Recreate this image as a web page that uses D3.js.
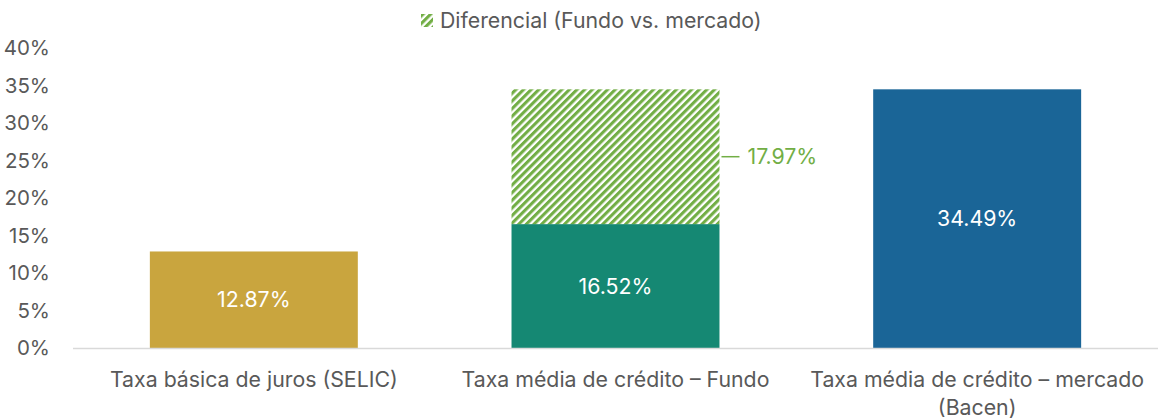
<!DOCTYPE html>
<html>
<head>
<meta charset="utf-8">
<script src="https://cdn.jsdelivr.net/npm/d3@7"></script>
<style>
  body { margin: 0; background: #fff; }
  svg text { font-family: Inter, "Open Sans", sans-serif; }
</style>
</head>
<body>
<div id="chart"></div>
<script>
// data
const categories = [
  ["Taxa básica de juros (SELIC)"],
  ["Taxa média de crédito – Fundo"],
  ["Taxa média de crédito – mercado", "(Bacen)"]
];
const baseValues = [12.87, 16.52, 34.49];
const diffValues = [0, 17.97, 0];
const baseColors = ["#C9A53E", "#158873", "#1A6597"];
const yTicks = [0, 5, 10, 15, 20, 25, 30, 35, 40];
const legendLabel = "Diferencial (Fundo vs. mercado)";

const width = 1158, height = 419;
const margin = { top: 48, right: 0, bottom: 71, left: 73 };
const green = "#72AE45";
const grey = "#595959";
const fs = 21.3;

const svg = d3.select("#chart").append("svg")
  .attr("width", width)
  .attr("height", height);

const defs = svg.append("defs");
const pat = defs.append("pattern")
  .attr("id", "hatch")
  .attr("patternUnits", "userSpaceOnUse")
  .attr("width", 5.4)
  .attr("height", 5.4)
  .attr("patternTransform", "rotate(45)");
pat.append("rect").attr("width", 5.4).attr("height", 5.4).attr("fill", "#fff");
pat.append("rect").attr("width", 3.1).attr("height", 5.4).attr("fill", green);

const x = d3.scaleBand()
  .domain(d3.range(categories.length))
  .range([margin.left, width - margin.right])
  .paddingInner(0.425)
  .paddingOuter(0.2125);

const y = d3.scaleLinear()
  .domain([0, 40])
  .range([height - margin.bottom, margin.top]);

// y axis labels
svg.append("g")
  .selectAll("text")
  .data(yTicks)
  .join("text")
  .attr("x", 50)
  .attr("y", d => y(d))
  .attr("dy", "0.35em")
  .attr("text-anchor", "end")
  .attr("font-size", 20.5)
  .attr("fill", grey)
  .text(d => d + "%");

// bars
svg.append("g")
  .selectAll("rect")
  .data(baseValues)
  .join("rect")
  .attr("x", (d, i) => x(i))
  .attr("width", x.bandwidth())
  .attr("y", d => y(d))
  .attr("height", d => y(0) - y(d))
  .attr("fill", (d, i) => baseColors[i]);

const diffs = diffValues.map((d, i) => ({ i, d })).filter(o => o.d > 0);

svg.append("g")
  .selectAll("rect")
  .data(diffs)
  .join("rect")
  .attr("x", o => x(o.i))
  .attr("width", x.bandwidth())
  .attr("y", o => y(baseValues[o.i] + o.d))
  .attr("height", o => y(0) - y(o.d))
  .attr("fill", "url(#hatch)");

// baseline
svg.append("line")
  .attr("x1", margin.left)
  .attr("x2", width - margin.right)
  .attr("y1", y(0) + 0.5)
  .attr("y2", y(0) + 0.5)
  .attr("stroke", "#d9d9d9")
  .attr("stroke-width", 1.5);

// value labels inside bars
svg.append("g")
  .selectAll("text")
  .data(baseValues)
  .join("text")
  .attr("x", (d, i) => x(i) + x.bandwidth() / 2)
  .attr("y", d => (y(d) + y(0)) / 2)
  .attr("dy", "0.35em")
  .attr("text-anchor", "middle")
  .attr("font-size", fs)
  .attr("fill", "#fff")
  .text(d => d.toFixed(2) + "%");

// differential label with leader line
diffs.forEach(o => {
  const xr = x(o.i) + x.bandwidth();
  const ym = y(baseValues[o.i] + o.d / 2);
  svg.append("line")
    .attr("x1", xr + 2).attr("x2", xr + 20)
    .attr("y1", ym).attr("y2", ym)
    .attr("stroke", green).attr("stroke-width", 1.5);
  svg.append("text")
    .attr("x", xr + 28)
    .attr("y", ym)
    .attr("dy", "0.35em")
    .attr("font-size", fs)
    .attr("fill", green)
    .text(o.d.toFixed(2) + "%");
});

// category labels
const cat = svg.append("g")
  .selectAll("text")
  .data(categories)
  .join("text")
  .attr("x", (d, i) => x(i) + x.bandwidth() / 2)
  .attr("y", 380)
  .attr("text-anchor", "middle")
  .attr("font-size", fs)
  .attr("fill", grey);
cat.selectAll("tspan")
  .data(d => d)
  .join("tspan")
  .attr("x", function () { return this.parentNode.getAttribute("x"); })
  .attr("dy", (d, j) => j === 0 ? "0.35em" : "1.27em")
  .text(d => d);

// legend
const lg = svg.append("g").attr("transform", "translate(421,14)");
lg.append("rect")
  .attr("width", 12).attr("height", 13)
  .attr("fill", "url(#hatch)");
lg.append("text")
  .attr("x", 19)
  .attr("y", 6.5)
  .attr("dy", "0.35em")
  .attr("font-size", fs)
  .attr("fill", grey)
  .text(legendLabel);
</script>
</body>
</html>
